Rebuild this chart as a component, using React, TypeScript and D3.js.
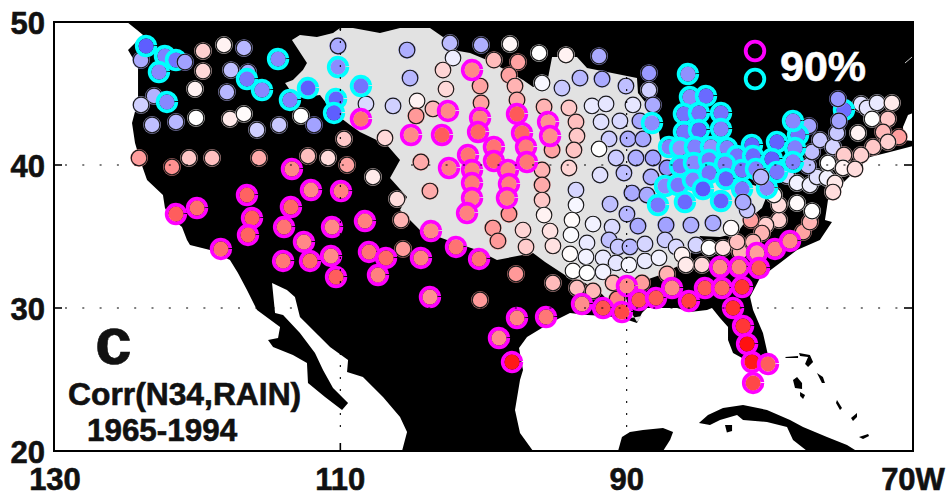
import React from 'react'
import * as d3 from 'd3'

type Pt = [number, number]
type Station = [number, number, number]

const lonTicks = [130, 110, 90, 70]
const lonTickLabels = ['130', '110', '90', '70W']
const latTicks = [50, 40, 30, 20]

// lon (deg W), lat
const landOutline: Pt[] = [
  [124.9, 50], [70, 50], [70, 43.64], [70.35, 43.5], [70.7, 42.66], [70.63, 41.75], [70, 41.68], [70, 41.33],
  [71.61, 40.91], [73, 40.56], [74.19, 39.44], [74.89, 38.74], [75.59, 37.76], [75.94, 37.55], [76.01, 37.06],
  [76.15, 36.15], [75.66, 36.01], [76.5, 34.76], [78.1, 34.06], [79.29, 33.15], [80.69, 32.1], [81.38, 30.77],
  [81.17, 29.86], [80.48, 28.25], [80.13, 26.71], [81.17, 26.15], [81.94, 26.5], [82.57, 26.85], [82.92, 27.76],
  [82.92, 28.67], [83.48, 29.3], [84.04, 30], [84.39, 29.86], [85.58, 29.72], [86.48, 30], [88.58, 30],
  [88.93, 29.65], [89.28, 28.95], [90.12, 29.23], [91.37, 29.44], [92.77, 29.51], [93.96, 29.65], [95.35, 28.95],
  [96.96, 27.97], [97.52, 27.2], [97.24, 25.66], [97.45, 24.97], [97.8, 22.87], [97.45, 21.26], [96.54, 20],
  [105.69, 20], [105.34, 21.33], [105.83, 22.38], [107.02, 23.78], [108.42, 25.17], [109.53, 25.52], [109.46, 26.36],
  [110.72, 27.27], [111.42, 27.97], [112.82, 29.37], [113.17, 30.77], [113.73, 31.26], [114.77, 31.75],
  [114.56, 29.65], [114, 29.51], [112.82, 28.25], [111.77, 26.85], [111.21, 25.66], [110.51, 24.41], [109.46, 23.36],
  [109.88, 22.87], [111.07, 23.78], [112.26, 24.76], [112.33, 26.15], [113.31, 26.71], [114.7, 27.27], [115.05, 27.76],
  [114.35, 27.9], [114.21, 28.67], [115.82, 29.86], [116.52, 31.26], [117.15, 32.45], [117.71, 33.36], [119.1, 34.06],
  [120.5, 34.41], [120.71, 34.76], [121.06, 35.66], [121.9, 36.36], [122.25, 36.99], [122.39, 37.9], [123.5, 38.95],
  [123.99, 40.35], [124.34, 41.54], [124.55, 42.94], [124.13, 44.55], [124.13, 46.85], [124.83, 48.04],
  [123.78, 49.09], [124.2, 49.44]
]

const basinOutline: Pt[] = [
  [113.38, 48.74], [112.82, 49.09], [111.63, 48.95], [110.51, 49.23], [110.02, 49.58], [109.12, 49.58], [107.23, 49.23],
  [105.83, 49.58], [103.74, 49.58], [102.83, 48.95], [102.13, 48.04], [100.94, 47.83], [99.76, 47.34], [98.85, 46.85],
  [97.24, 45.94], [96.54, 45.45], [95.56, 45.73], [95.21, 47.55], [93.47, 47.55], [92.77, 46.78], [91.37, 46.5],
  [89.28, 46.08], [89.21, 45.03], [87.88, 43.36], [87.67, 41.75], [84.88, 39.65], [80.69, 38.46], [80.13, 38.04],
  [80.55, 36.99], [81.73, 36.01], [82.29, 35.24], [83.48, 34.97], [84.88, 35.04], [85.37, 34.06], [86.27, 33.01],
  [87.67, 32.31], [89.07, 31.82], [90.12, 30.91], [89.77, 29.86], [89.28, 29.02], [88.93, 29.44], [90.12, 29.23],
  [90.81, 30], [91.86, 31.12], [92.91, 31.75], [94.31, 32.31], [95.7, 33.22], [96.54, 33.85], [99.06, 33.36],
  [100.45, 34.06], [102.55, 34.76], [104.44, 35.45], [105.83, 36.85], [105.34, 37.76], [106.53, 39.09], [105.83, 40.35],
  [106.74, 41.4], [108.63, 42.31], [109.32, 42.8], [110.51, 43.71], [111.42, 44.9], [113.03, 44.69], [113.52, 45.24],
  [113.86, 45.73], [113.31, 45.94], [112.61, 46.64], [112.33, 47.13]
]

const cubaOutline: Pt[] = [
  [84.95, 21.96], [84.32, 22.52], [83.27, 23.01], [81.87, 23.22], [80.2, 22.87], [78.59, 22.17], [77.68, 21.68], [76.01, 20.98],
  [74.61, 20.42], [74.05, 20.07], [74.05, 20], [77.4, 20], [78.38, 20.77], [78.8, 21.68], [80.2, 22.03], [81.87, 22.17],
  [82.29, 22.52], [83.48, 22.17], [84.18, 21.82]
]
const pinesOutline: Pt[] = [[83.13, 21.82], [82.64, 21.82], [82.64, 21.4], [83, 21.3]]
const yucatanOutline: Pt[] = [
  [90.6, 20], [90.33, 20.98], [89.77, 21.33], [88.86, 21.47], [87.46, 21.61], [86.76, 21.33], [86.97, 20.77], [87.46, 20]
]
const islandOutlines: Pt[][] = [
  [[78.38, 24.97], [78.1, 25.17], [77.75, 24.76], [77.75, 24.34], [78.24, 24.41]],
  [[77.89, 24.13], [77.54, 23.92], [77.68, 23.64], [77.89, 23.85]],
  [[78.94, 26.57], [78.03, 26.64], [78.03, 26.5], [78.87, 26.5]],
  [[77.96, 26.85], [77.2, 26.71], [76.98, 26.22], [77.33, 25.87], [77.54, 26.08], [77.33, 26.57], [77.89, 26.64]],
  [[76.71, 25.46], [76.29, 25.17], [76.15, 24.76], [76.36, 24.76], [76.57, 25.17]],
  [[75.31, 23.57], [74.96, 23.01], [75.1, 22.87], [75.38, 23.36]],
  [[73.91, 22.66], [73.91, 22.38], [74.19, 22.1], [74.33, 22.31]],
  [[73.77, 20.98], [73.14, 21.19], [73.07, 21.05], [73.49, 20.84]]
]

const otherStations: Station[] = [
  [123.92, 47.34, -0.2], [119.59, 47.97, 0.11], [118.13, 48.39, 0.03], [116.73, 48.18, -0.17], [119.59, 46.57, 0.09],
  [117.64, 46.64, -0.15], [116.45, 46.5, -0.2], [120.15, 45.31, 0.03], [117.92, 45.1, -0.17], [123.01, 44.83, -0.18],
  [123.92, 44.2, -0.11], [123.15, 42.8, -0.15], [121.48, 43.01, -0.17], [120.08, 43.29, 0], [117.71, 43.22, 0.05],
  [116.73, 43.57, 0.01], [115.82, 42.45, -0.11], [114.28, 42.8, -0.13], [112.75, 43.43, 0], [111.84, 42.8, -0.22],
  [110.16, 48.32, -0.2], [124.06, 40.49, 0.23], [121.76, 39.86, 0.26], [120.57, 40.49, 0.13], [118.96, 40.49, 0.15],
  [115.68, 40.49, 0.2], [112.26, 40.63, 0.15], [110.86, 40.49, 0.08], [109.74, 41.82, 0.13], [109.53, 40, 0.22]
]
const plainsStations: Station[] = [
  [105.62, 34.13, 0.24], [105.76, 36.15, 0.18], [106.04, 37.62, 0.08], [107.72, 39.16, 0.05], [106.88, 41.89, 0.09],
  [108.21, 44.27, -0.09], [106.32, 44.13, -0.11], [105.34, 48.04, -0.19], [105.13, 46.08, -0.17], [102.34, 48.53, -0.16],
  [100.17, 48.39, -0.19], [98.15, 48.46, 0.02], [102.13, 47.48, -0.04], [102.83, 46.64, 0.1], [102.62, 45.31, 0.09],
  [104.64, 44.48, 0.03], [104.71, 43.43, 0.24], [103.53, 43.92, 0.17], [104.37, 40.21, 0.2], [103.74, 38.18, 0.2],
  [99.27, 47.34, 0.16], [97.59, 47.2, 0.22], [98.22, 46.29, 0.22], [100.24, 45.52, 0.22], [97.8, 45.52, 0.18],
  [100.17, 44.34, 0.22], [97.66, 44.55, 0.2], [98.22, 36.57, 0.26], [99.34, 35.59, 0.24], [98.99, 34.69, 0.24],
  [96.12, 47.83, 0], [94.24, 47.69, 0.03], [91.93, 47.62, -0.2], [95.91, 45.73, -0.02], [94.52, 45.38, -0.13],
  [93.26, 46.08, -0.17], [91.72, 46.01, -0.2], [90.05, 45.52, -0.15], [95.77, 44.06, 0.18], [94.03, 43.99, 0.13],
  [92.42, 44.13, -0.05], [91.44, 44.27, -0.06], [89.56, 44.2, -0.06], [95.21, 41.05, 0.22], [93.54, 43.01, 0.15],
  [93.47, 42.03, 0.13], [93.68, 41.05, 0.14], [94.03, 39.79, 0.1], [95.91, 39.65, 0.18], [95.91, 38.6, 0.2],
  [95.91, 37.55, 0.13], [95.77, 36.5, 0.03], [95.35, 35.38, 0.07], [95.15, 34.34, 0.07], [97.24, 35.45, 0.1], [97.03, 34.27, 0.12]
]
const midwestStations: Station[] = [
  [91.79, 43.01, -0.07], [90.47, 43.08, -0.09], [89.07, 43.08, -0.21], [91.23, 41.82, -0.12], [89.91, 41.82, -0.19],
  [88.86, 41.82, -0.21], [91.93, 41.12, 0], [90.74, 40.49, -0.12], [89.35, 40.49, -0.19], [88.16, 40.49, -0.22],
  [91.86, 39.3, -0.07], [90.19, 39.44, -0.15], [88.3, 39.16, -0.19], [89.63, 38.04, -0.2], [88.58, 37.9, -0.2],
  [91.16, 37.27, -0.15], [93.54, 38.25, -0.1], [93.54, 37.2, -0.02], [93.82, 36.15, 0.01], [93.89, 35.11, -0.01],
  [93.96, 33.78, 0.01], [92.35, 35.87, -0.03], [91.02, 35.66, -0.09], [89.98, 36.57, -0.17], [89.21, 35.73, -0.2],
  [91.23, 34.76, -0.15], [90.6, 34.27, -0.13], [89.77, 34.27, -0.17], [92.77, 34.55, -0.05], [92.84, 33.57, -0.03],
  [91.65, 33.5, -0.05], [90.74, 33.15, -0.06], [89.84, 33.01, -0.02], [93.75, 32.59, 0], [92.77, 32.45, 0], [91.65, 32.52, -0.03],
  [88.44, 46.43, -0.24], [88.44, 45.24, -0.11], [88.16, 44.2, -0.2], [87.18, 39.79, -0.26], [87.25, 35.8, -0.22],
  [85.51, 35.8, -0.19], [83.97, 35.94, -0.2]
]
const southStations: Station[] = [
  [97.73, 32.38, 0.24], [95.15, 31.75, 0.16], [100.24, 30.56, 0.24], [93.47, 31.4, 0.15], [92.35, 31.19, 0.17],
  [90.95, 31.75, 0.18], [90.67, 30.63, 0.3], [88.93, 31.75, 0.23], [87.18, 32.38, 0.18], [88.72, 33.29, -0.05],
  [87.74, 33.5, -0.03], [88.72, 34.48, -0.1], [87.32, 34.76, -0.12], [86.55, 34.27, -0.09], [86.13, 33.71, 0.03],
  [85.86, 33.01, 0.05], [84.74, 33.01, 0.09], [85.16, 34.41, -0.1], [84.25, 34.2, 0], [83.27, 34.2, 0.07], [82.08, 33.92, 0.18]
]
const eastStations: Station[] = [
  [77.68, 35.31, 0.22], [77.2, 36.01, 0.18], [77.05, 36.78, 0], [78.1, 37.34, 0.01], [79.36, 36.15, 0.11], [80.27, 35.8, 0.11],
  [80.55, 35.24, 0.18], [81.17, 34.62, 0.17], [82.29, 34.62, 0.15], [82.71, 35.59, 0.01], [81.32, 36.15, 0.23], [79.36, 37.2, 0.08],
  [79.71, 37.9, 0.03], [78.8, 39.23, -0.11], [78.1, 38.74, -0.03], [77.2, 38.6, -0.04], [76.71, 39.16, -0.07], [76.01, 39.09, -0.03],
  [75.45, 38.74, 0.05], [75.59, 38.11, 0.08], [75.94, 40.14, 0], [77.33, 39.93, -0.15], [77.05, 40.91, -0.15], [76.5, 41.75, -0.13],
  [77.26, 42.73, -0.22], [75.59, 41.26, -0.1], [75.31, 42.24, -0.13], [73.63, 44.27, -0.07], [73.21, 43.99, -0.06],
  [72.51, 44.34, -0.05], [71.47, 44.34, 0.05], [72.86, 43.22, 0], [71.75, 43.22, 0.13], [73.84, 42.24, 0.03], [72.09, 42.31, 0.17],
  [70.98, 41.96, 0.23], [71.75, 41.61, 0.11], [72.79, 41.26, 0.13], [73.63, 40.7, 0.11], [74.82, 40.7, 0.12], [74.89, 39.79, 0.03],
  [74.05, 39.72, 0.08]
]

// above 90%, positive
const westPosStations: Station[] = [
  [113.38, 39.72, 0.28], [112.05, 38.25, 0.28], [109.95, 38.18, 0.3], [116.52, 37.9, 0.37], [120.01, 36.99, 0.34],
  [121.48, 36.57, 0.38], [116.17, 36.29, 0.38], [113.45, 37.06, 0.36], [113.93, 35.66, 0.33], [116.45, 35.11, 0.37],
  [110.58, 35.66, 0.28], [112.54, 34.62, 0.28], [118.34, 34.13, 0.34], [114, 33.29, 0.32], [112.12, 33.29, 0.35],
  [110.65, 33.64, 0.28], [110.3, 32.17, 0.38], [108.28, 36.08, 0.3], [108, 33.92, 0.33], [106.81, 33.5, 0.36],
  [104.37, 33.5, 0.3], [108.56, 43.22, 0.33], [107.37, 32.31, 0.3], [103.74, 30.77, 0.26]
]
const plainsPosStations: Station[] = [
  [102.48, 43.78, 0.28], [105.06, 42.1, 0.28], [102.9, 42.1, 0.38], [102.41, 39.79, 0.3], [103.67, 35.38, 0.28],
  [101.92, 34.27, 0.33], [100.31, 33.43, 0.33], [100.8, 46.64, 0.28], [100.24, 43.29, 0.3], [100.38, 42.31, 0.36],
  [101.08, 40.7, 0.33], [100.8, 39.65, 0.31], [100.8, 38.74, 0.31], [100.8, 37.69, 0.3], [101.15, 36.64, 0.3],
  [99.27, 41.26, 0.33], [99.27, 40.28, 0.36], [98.29, 39.65, 0.3], [98.22, 38.67, 0.3], [98.36, 37.69, 0.3],
  [97.66, 43.57, 0.39], [97.31, 42.24, 0.36], [97.03, 41.26, 0.31], [96.96, 40.21, 0.32], [95.49, 43.01, 0.26], [95.35, 42.03, 0.27]
]
const gulfPosStations: Station[] = [
  [97.66, 29.3, 0.29], [95.63, 29.37, 0.32], [98.92, 27.9, 0.27], [98.01, 26.22, 0.54], [89.98, 31.54, 0.28], [93.12, 30.28, 0.27],
  [91.65, 30, 0.41], [89.14, 30.56, 0.41], [90.33, 29.72, 0.43], [87.95, 30.7, 0.4], [86.83, 31.4, 0.28], [85.65, 30.49, 0.45],
  [84.53, 31.4, 0.4], [83.34, 31.4, 0.37], [81.94, 31.47, 0.48], [83.48, 32.87, 0.28], [82.15, 32.87, 0.3], [80.9, 33.85, 0.23],
  [80.76, 32.8, 0.4], [79.64, 34.13, 0.3], [78.59, 34.69, 0.28], [82.57, 30, 0.49], [81.87, 28.74, 0.47], [81.59, 27.48, 0.56],
  [81.25, 26.22, 0.54], [80.13, 26.08, 0.38], [81.17, 24.76, 0.43]
]

// above 90%, negative
const westNegStations: Station[] = [
  [123.57, 48.32, -0.38], [122.25, 47.62, -0.3], [121.48, 47.34, -0.33], [122.67, 46.5, -0.28], [116.52, 46.01, -0.32],
  [115.47, 45.24, -0.28], [114.35, 47.41, -0.28], [122.11, 44.41, -0.28], [112.26, 45.38, -0.38], [113.52, 44.55, -0.3],
  [110.16, 46.85, -0.27], [108.56, 45.52, -0.33], [110.3, 44.62, -0.37], [110.44, 43.64, -0.38]
]
const eastNegStations: Station[] = [
  [74.82, 43.85, -0.34], [88.23, 42.94, -0.27], [85.72, 46.36, -0.26], [85.58, 44.76, -0.28], [84.46, 44.83, -0.35],
  [86, 43.57, -0.33], [84.95, 43.64, -0.33], [83.41, 43.64, -0.33], [86, 42.31, -0.33], [84.95, 42.45, -0.37],
  [83.41, 42.52, -0.3], [87.04, 41.26, -0.3], [86.27, 41.19, -0.26], [85.23, 41.26, -0.3], [84.11, 41.26, -0.26],
  [82.99, 41.19, -0.3], [81.25, 41.4, -0.37], [79.5, 41.61, -0.37], [78.03, 42.1, -0.33], [78.38, 43.08, -0.28],
  [82.29, 40.63, -0.33], [81.17, 40.63, -0.35], [79.85, 40.42, -0.38], [78.24, 41.19, -0.3], [78.38, 40.21, -0.3],
  [86.27, 39.93, -0.33], [85.3, 40.14, -0.28], [84.25, 40.35, -0.32], [83.13, 40.07, -0.3], [81.94, 39.65, -0.33],
  [80.97, 39.72, -0.3], [79.5, 39.51, -0.32], [87.32, 38.53, -0.28], [86.41, 38.6, -0.32], [85.37, 38.95, -0.3],
  [84.25, 39.44, -0.33], [83.06, 39.02, -0.37], [81.94, 38.32, -0.32], [80.2, 38.39, -0.28], [84.67, 38.32, -0.39],
  [87.81, 37.2, -0.32], [85.93, 37.41, -0.35], [83.41, 37.48, -0.37]
]

// plain stations that sit on top of the cyan rings
const overStations: Station[] = [
  [120.85, 47.2, -0.22], [81.59, 36.85, -0.13], [81.87, 37.41, -0.2], [80.62, 39.16, -0.17], [75.17, 43.08, -0.22], [75.24, 44.62, -0.24]
]

const width = 946
const height = 492
const left = 54
const right = 913
const top = 22
const bottom = 451

const xScale = d3.scaleLinear().domain([130, 70]).range([left, right])
const yScale = d3.scaleLinear().domain([20, 50]).range([bottom, top])
const colorScale = d3.scaleLinear<string>().domain([-0.6, 0, 0.6]).range(['#0000ff', '#ffffff', '#ff0000'])

const outline = d3
  .line<Pt>()
  .x(d => xScale(d[0]))
  .y(d => yScale(d[1]))
  .curve(d3.curveLinearClosed)

const font = '"Liberation Sans", Arial, sans-serif'
const ringR = 9.3
const ringGap = 1.2
const ringDash = `${2 * Math.PI * ringR - ringGap} ${ringGap}`

function PlainDots({ data }: { data: Station[] }) {
  return (
    <g>
      {data.map((d, i) => (
        <g key={i} transform={`translate(${xScale(d[0])},${yScale(d[1])})`}>
          <circle r={8.9} fill={colorScale(d[2])} opacity={0.8} />
          <circle r={7.8} fill={colorScale(d[2])} stroke="#1a1a1a" strokeWidth={1.2} />
        </g>
      ))}
    </g>
  )
}

function RingDots({ data, ring }: { data: Station[]; ring: string }) {
  return (
    <g>
      {data.map((d, i) => (
        <g key={i} transform={`translate(${xScale(d[0])},${yScale(d[1])})`}>
          <circle r={ringR} fill="none" stroke={ring} strokeWidth={3.8} strokeDasharray={ringDash} />
          <circle r={7.5} fill={colorScale(d[2])} />
        </g>
      ))}
    </g>
  )
}

export default function App() {
  return (
    <svg width={width} height={height} style={{ position: 'absolute', left: 0, top: 0 }}>
      <rect width={width} height={height} fill="#fff" />
      <path d={outline(landOutline) || ''} fill="#000" />
      <path d={outline(basinOutline) || ''} fill="#e2e2e2" />
      <path d={outline(cubaOutline) || ''} fill="#000" />
      <path d={outline(pinesOutline) || ''} fill="#000" />
      <path d={outline(yucatanOutline) || ''} fill="#000" />
      {islandOutlines.map((d, i) => (
        <path key={i} d={outline(d) || ''} fill="#000" />
      ))}
      <line x1={xScale(70.56)} x2={xScale(70.07)} y1={yScale(47.13)} y2={yScale(47.55)} stroke="#ccc" strokeWidth={1} />

      <PlainDots data={otherStations} />
      <PlainDots data={plainsStations} />
      <PlainDots data={midwestStations} />
      <PlainDots data={southStations} />
      <PlainDots data={eastStations} />
      <RingDots data={westNegStations} ring="#00ffff" />
      <RingDots data={eastNegStations} ring="#00ffff" />
      <RingDots data={westPosStations} ring="#ff00ff" />
      <RingDots data={plainsPosStations} ring="#ff00ff" />
      <RingDots data={gulfPosStations} ring="#ff00ff" />
      <PlainDots data={overStations} />

      {/* dotted grid at the inner ticks */}
      {latTicks.slice(1, 3).map(t => (
        <g key={t}>
          <line x1={left + 11} x2={right} y1={yScale(t)} y2={yScale(t)} stroke="#000" strokeWidth={1.1} strokeDasharray="2 15.3" />
          <line x1={left} x2={left + 8} y1={yScale(t)} y2={yScale(t)} stroke="#000" strokeWidth={1.6} />
          <line x1={right - 9} x2={right} y1={yScale(t)} y2={yScale(t)} stroke="#000" strokeWidth={1.6} />
        </g>
      ))}
      {lonTicks.slice(1, 3).map(t => (
        <g key={t}>
          <line x1={xScale(t)} x2={xScale(t)} y1={bottom - 24} y2={top} stroke="#000" strokeWidth={1.1} strokeDasharray="2 10" />
          <line x1={xScale(t)} x2={xScale(t)} y1={bottom - 8} y2={bottom} stroke="#000" strokeWidth={1.6} />
          <line x1={xScale(t)} x2={xScale(t)} y1={top} y2={top + 8} stroke="#000" strokeWidth={1.6} />
        </g>
      ))}
      <rect x={left} y={top} width={right - left} height={bottom - top} fill="none" stroke="#000" strokeWidth={2} />

      <g fontFamily={font} fontWeight={700} fontSize={31} fill="#111" stroke="#111" strokeWidth={0.6}>
        {latTicks.map(t => (
          <text key={t} x={45} y={yScale(t) + 11.5} textAnchor="end">
            {t}
          </text>
        ))}
        {lonTicks.map((t, i) => (
          <text key={t} x={xScale(t) + (i === 0 ? 1 : 0)} y={490} textAnchor="middle">
            {lonTickLabels[i]}
          </text>
        ))}
        <text x={68} y={405} fontSize={31.8}>Corr(N34,RAIN)</text>
        <text x={87} y={441} fontSize={31.4}>1965-1994</text>
        <text x={95} y={364} fontSize={66}>c</text>
      </g>

      <circle cx={755} cy={51} r={9.3} fill="#000" stroke="#ff00ff" strokeWidth={3.8} />
      <circle cx={755} cy={79} r={9.3} fill="#000" stroke="#00ffff" strokeWidth={3.8} />
      <text x={780} y={81} fontFamily={font} fontWeight={700} fontSize={43} fill="#fff" stroke="#fff" strokeWidth={0.6}>
        90%
      </text>
    </svg>
  )
}
